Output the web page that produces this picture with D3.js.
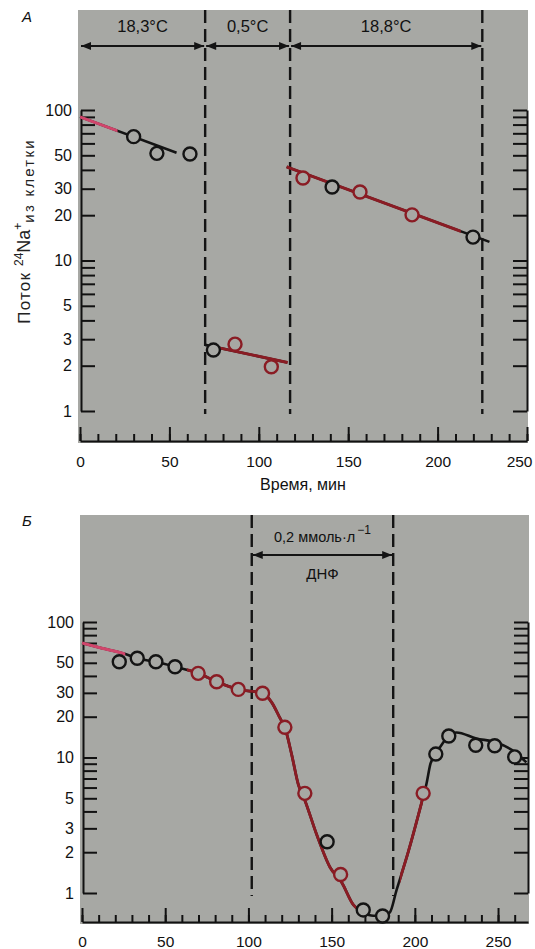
<!DOCTYPE html>
<html><head><meta charset="utf-8">
<script src="https://cdn.jsdelivr.net/npm/d3@7"></script>
<style>
body{margin:0;background:#fff;}
svg{display:block;font-family:"Liberation Sans",Arial,Helvetica,sans-serif;}
</style></head><body>
<svg id="chart" width="535" height="949"></svg>
<script>
// ---------- shared tick data ----------
const xTickLabels = [0, 50, 100, 150, 200, 250];
const yTickLabels = [1, 2, 3, 5, 10, 20, 30, 50, 100];
const yTicksAll = [1, 2, 3, 4, 5, 6, 7, 8, 9, 10, 20, 30, 40, 50, 60, 70, 80, 90, 100];
const xTitle = "Время, мин";

// ---------- panel A (temperature steps) ----------
const periodBoundsA = [0, 70, 117.5, 225];
const periodLabelsA = ["18,3°C", "0,5°C", "18,8°C"];
const timeA = [30, 43, 61.5, 74.6, 86.7, 107, 124.7, 141, 156.6, 185.7, 219.8];
const fluxA = [66.5, 51.5, 51, 2.54, 2.78, 1.97, 35.3, 30.8, 28.5, 20.1, 14.3];
const inkA  = [0, 0, 0, 0, 1, 1, 1, 0, 1, 1, 0];          // 0 black print, 1 red print
const fitTimeA = [[0, 54], [70, 116], [115.6, 229]];
const fitFluxA = [[90, 52], [2.75, 2.1], [41.9, 13.3]];
const inkRangesA = [[0, 21, 2], [73.5, 117, 1], [115.6, 213, 1]];  // [t0, t1, ink]

// ---------- panel B (DNP) ----------
const doseBoundsB = [102, 187];
const doseLabelB = "0,2 ммоль·л";
const doseSupB = "−1";
const drugLabelB = "ДНФ";
const timeB = [22.4, 33.2, 44.4, 55.9, 69.8, 80.9, 93.9, 108.5, 121.9, 133.9, 147.3, 155.4, 169, 180.6, 205, 212.6, 220.4, 236.6, 248, 260];
const fluxB = [50.9, 54, 50.9, 46.8, 41.8, 36.2, 31.8, 29.8, 16.7, 5.44, 2.39, 1.37, 0.75, 0.676, 5.44, 10.6, 14.4, 12.3, 12.2, 10.1];
const inkB  = [0, 0, 0, 0, 1, 1, 1, 1, 1, 1, 0, 1, 0, 0, 1, 0, 0, 0, 0, 0];
const curveTimeB = [0, 12, 26, 33, 44, 56, 70, 81, 94, 108.5, 114, 119, 122, 126, 130, 134, 141, 149, 156, 163, 169, 175, 181, 185, 189, 196, 204, 207, 209.4, 212.6, 220.4, 225, 237, 248, 260, 267];
const curveFluxB = [70, 64, 58, 54, 50.9, 46.8, 41.8, 36.2, 31.8, 29.8, 25.5, 19.5, 16.5, 10.5, 6.3, 4.8, 2.7, 1.55, 1.2, 0.82, 0.72, 0.68, 0.68, 0.72, 1.05, 2.0, 4.6, 6.4, 9.0, 10.6, 14.4, 15.3, 13.8, 13.0, 11.0, 9.2];
const inkRangesB = [[0, 26, 2], [63, 165, 1], [191, 205, 1]];

// ---------- styling ----------
const W = 535;
const GRAY = "#a7a8a4";
const INK = ["#141414", "#8a1c24", "#d0456b"];
const svg = d3.select("#chart");
const defs = svg.append("defs");
defs.append("marker").attr("id", "ah").attr("viewBox", "0 0 10 8")
  .attr("markerUnits", "userSpaceOnUse").attr("markerWidth", 11).attr("markerHeight", 8)
  .attr("refX", 10).attr("refY", 4).attr("orient", "auto-start-reverse")
  .append("path").attr("d", "M0,0L10,4L0,8Z").attr("fill", INK[0]);

let clipId = 0;

function panel(cfg) {
  const g = svg.append("g");
  const x = d3.scaleLinear().domain(cfg.xDomain).range([cfg.left, cfg.right]);
  const y = d3.scaleLog().domain([1, 100]).range([cfg.y1, cfg.y100]);

  g.append("rect").attr("x", cfg.left - 2).attr("y", cfg.top)
    .attr("width", cfg.right - cfg.left + 3).attr("height", cfg.bottom - cfg.top + 2)
    .attr("fill", GRAY);

  // panel letter
  g.append("text").attr("x", 22).attr("y", cfg.top + cfg.letterDy).attr("font-size", 15)
    .attr("font-style", "italic").attr("fill", "#111").text(cfg.letter);

  // axes
  const styleAxis = a => {
    a.selectAll("path,line").attr("stroke", "#111").attr("stroke-width", 2);
    a.selectAll("text").attr("fill", "#111");
  };
  g.append("g").attr("transform", `translate(${cfg.left + 1},0)`)
    .call(d3.axisLeft(y).tickValues(yTicksAll).tickSize(-14).tickSizeOuter(0).tickPadding(9)
      .tickFormat(d => yTickLabels.includes(d) ? d : ""))
    .call(a => a.selectAll("text").attr("font-size", 16).attr("font-family", "Liberation Sans, Arial, sans-serif"))
    .call(styleAxis);
  g.append("g").attr("transform", `translate(${cfg.right},0)`)
    .call(d3.axisRight(y).tickValues(yTicksAll).tickSize(-14).tickSizeOuter(0).tickFormat(""))
    .call(styleAxis);
  g.append("g").attr("transform", `translate(0,${cfg.bottom})`)
    .call(d3.axisBottom(x).tickValues(cfg.minor).tickSize(-7).tickSizeOuter(0).tickFormat(""))
    .call(styleAxis);
  g.append("g").attr("transform", `translate(0,${cfg.bottom})`)
    .call(d3.axisBottom(x).tickValues(xTickLabels).tickSize(-14).tickSizeOuter(0).tickPadding(cfg.xPad))
    .call(a => a.selectAll("text").attr("font-size", 15.5).attr("font-family", "Liberation Sans, Arial, sans-serif"))
    .call(a => a.selectAll(".tick text").each(function (d) {
      // keep the last label inside the page, as in the printed figure
      const half = this.getComputedTextLength() / 2;
      const over = x(d) + half - (W - 3);
      if (over > 0) d3.select(this).attr("x", -over);
    }))
    .call(a => a.select(".domain").remove())
    .call(styleAxis);

  // dashed boundaries
  g.selectAll(".bound").data(cfg.bounds).join("line")
    .attr("x1", d => x(d)).attr("x2", d => x(d))
    .attr("y1", cfg.top).attr("y2", y(1) + 3)
    .attr("stroke", INK[0]).attr("stroke-width", 2.4).attr("stroke-dasharray", "13,6");

  // lines
  const line = d3.line().x(d => x(d[0])).y(d => y(d[1])).curve(cfg.curve);
  const drawLines = (sel, color, w) => {
    cfg.lines.forEach(l => sel.append("path").attr("d", line(l)).attr("fill", "none")
      .attr("stroke", color).attr("stroke-width", w).attr("stroke-linecap", "butt"));
  };
  drawLines(g.append("g"), INK[0], 2.6);
  cfg.inkRanges.forEach(r => {
    const id = "clip" + (clipId++);
    defs.append("clipPath").attr("id", id).append("rect")
      .attr("x", x(r[0])).attr("width", x(r[1]) - x(r[0]))
      .attr("y", 0).attr("height", 949);
    drawLines(g.append("g").attr("clip-path", `url(#${id})`), INK[r[2]], 2.9);
  });

  // points
  g.selectAll(".pt").data(cfg.time).join("circle")
    .attr("cx", d => x(d)).attr("cy", (d, i) => y(cfg.flux[i])).attr("r", 6.5)
    .attr("fill", GRAY).attr("stroke", (d, i) => INK[cfg.ink[i]]).attr("stroke-width", 2.4);
  return { g, x, y };
}

// ----- Panel A -----
const A = panel({
  letter: "A", letterDy: 12, left: 80, right: 527, top: 10, bottom: 441, y1: 411, y100: 110,
  xDomain: [0, 250], minor: d3.range(0, 251, 10), xPad: 15,
  bounds: periodBoundsA.slice(1), curve: d3.curveLinear,
  lines: fitTimeA.map((ts, i) => ts.map((t, j) => [t, fitFluxA[i][j]])),
  inkRanges: inkRangesA, time: timeA, flux: fluxA, ink: inkA
});
// period arrows and labels
periodLabelsA.forEach((lab, i) => {
  const x0 = A.x(periodBoundsA[i]), x1 = A.x(periodBoundsA[i + 1]);
  A.g.append("line").attr("x1", x0 + 1).attr("x2", x1 - 1).attr("y1", 46).attr("y2", 46)
    .attr("stroke", INK[0]).attr("stroke-width", 2)
    .attr("marker-start", "url(#ah)").attr("marker-end", "url(#ah)");
  A.g.append("text").attr("x", (x0 + x1) / 2).attr("y", 32).attr("text-anchor", "middle")
    .attr("font-size", 16.5).attr("fill", "#111").text(lab);
});
// y title
const yt = A.g.append("text").attr("transform", "translate(30,231) rotate(-90)")
  .attr("text-anchor", "middle").attr("fill", "#222");
yt.append("tspan").attr("font-size", 17).attr("letter-spacing", 1.2).text("Поток ");
yt.append("tspan").attr("font-size", 12).attr("dy", -7).text("24");
yt.append("tspan").attr("font-size", 18).attr("dy", 7).text("Na");
yt.append("tspan").attr("font-size", 12).attr("dy", -8).text("+");
yt.append("tspan").attr("font-size", 15).attr("dy", 12).attr("letter-spacing", 2.2).text("из клетки");
// x title
A.g.append("text").attr("x", 303).attr("y", 490).attr("text-anchor", "middle")
  .attr("font-size", 16).attr("fill", "#111").text(xTitle);

// ----- Panel B -----
const B = panel({
  letter: "Б", letterDy: 11, left: 82, right: 528, top: 515, bottom: 922, y1: 893, y100: 622,
  xDomain: [0, 268], minor: d3.range(0, 261, 10), xPad: 13.5,
  bounds: doseBoundsB, curve: d3.curveMonotoneX,
  lines: [curveTimeB.map((t, i) => [t, curveFluxB[i]])],
  inkRanges: inkRangesB, time: timeB, flux: fluxB, ink: inkB
});
{
  const x0 = B.x(doseBoundsB[0]), x1 = B.x(doseBoundsB[1]);
  B.g.append("line").attr("x1", x0 + 1).attr("x2", x1 - 1).attr("y1", 555).attr("y2", 555)
    .attr("stroke", INK[0]).attr("stroke-width", 2)
    .attr("marker-start", "url(#ah)").attr("marker-end", "url(#ah)");
  const t = B.g.append("text").attr("x", (x0 + x1) / 2).attr("y", 542).attr("text-anchor", "middle")
    .attr("font-size", 14.5).attr("fill", "#111");
  t.append("tspan").text(doseLabelB);
  t.append("tspan").attr("font-size", 12).attr("dy", -8).attr("dx", 2).text(doseSupB);
  B.g.append("text").attr("x", (x0 + x1) / 2).attr("y", 579).attr("text-anchor", "middle")
    .attr("font-size", 15).attr("fill", "#111").text(drugLabelB);
}
</script>
</body></html>
